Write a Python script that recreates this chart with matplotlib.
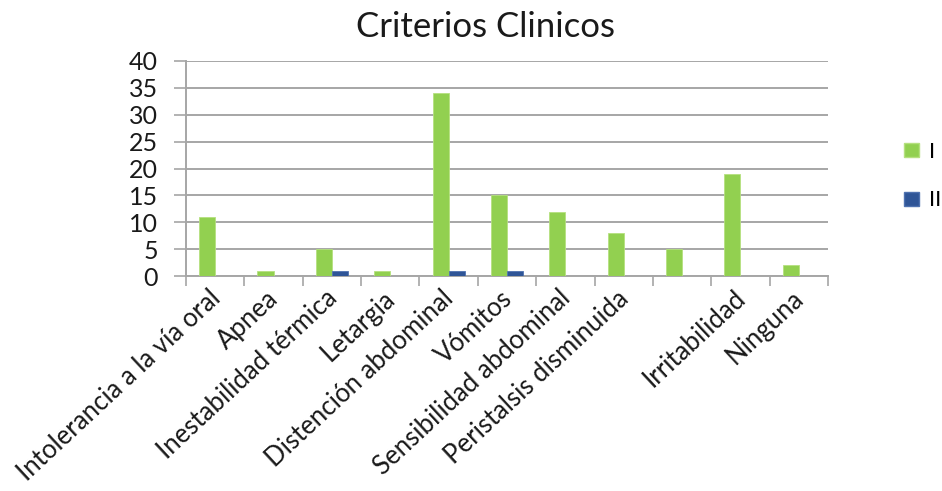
import matplotlib
matplotlib.use("Agg")
import matplotlib.pyplot as plt
import matplotlib.transforms as mtransforms
import numpy as np
from matplotlib.patches import Patch

plt.rcParams['font.family'] = ['Lato', 'DejaVu Sans']

title = "Criterios Clinicos"
categories = ["Intolerancia a la vía oral", "Apnea", "Inestabilidad térmica", "Letargia",
              "Distención abdominal", "Vómitos", "Sensibilidad abdominal",
              "Peristalsis disminuida", "", "Irritabilidad", "Ninguna"]
series_names = ["I", "II"]
values_I = [11, 1, 5, 1, 34, 15, 12, 8, 5, 19, 2]
values_II = [0, 0, 1, 0, 1, 1, 0, 0, 0, 0, 0]
yticks = [0, 5, 10, 15, 20, 25, 30, 35, 40]

green = "#92D050"
blue = "#2F5597"
grid_c = "#A6A6A6"

fig = plt.figure(figsize=(9.42, 4.91), dpi=100)
ax = fig.add_axes([186/942, 1-276/491, (828-186)/942, (276-61)/491])

x = np.arange(len(categories))
w = 0.275
ax.bar(x - w/2, values_I, width=w, color=green, edgecolor="#B5E07F", linewidth=0.6, zorder=3, label=series_names[0])
ax.bar(x + w/2, values_II, width=w, color=blue, edgecolor="#4F72B0", linewidth=0.6, zorder=3, label=series_names[1])

ax.set_xlim(-0.5, len(categories) - 0.5)
ax.set_ylim(0, 40)
ax.set_yticks(yticks)
ax.set_yticklabels([str(t) for t in yticks], fontsize=18, color="#1a1a1a")
ax.yaxis.grid(True, color=grid_c, linewidth=1.4, zorder=0)
ax.tick_params(axis='y', length=9, width=1.2, color=grid_c, pad=11)

# category boundaries ticks
ax.set_xticks(np.arange(-0.5, len(categories), 1.0), minor=False)
ax.set_xticklabels([])
ax.tick_params(axis='x', which='major', length=7, width=1.2, color=grid_c)
ax.set_xticks(x, minor=True)
ax.set_xticklabels(categories, minor=True, rotation=43, ha='right', rotation_mode='anchor',
                   fontsize=18.5, color="#1a1a1a")
ax.tick_params(axis='x', which='minor', length=0, pad=7)
shift = mtransforms.ScaledTranslation(-7/100, 0, fig.dpi_scale_trans)
for lbl in ax.get_xticklabels(minor=True):
    lbl.set_transform(lbl.get_transform() + shift)

for s in ['top', 'right']:
    ax.spines[s].set_visible(False)
for s in ['left', 'bottom']:
    ax.spines[s].set_color(grid_c)
    ax.spines[s].set_linewidth(1.4)

fig.text(485/942, 1-27/491, title, ha='center', va='center', fontsize=25, color="#1a1a1a")

handles = [Patch(facecolor=green, edgecolor="#B5E07F"), Patch(facecolor=blue, edgecolor="#4F72B0")]
fig.legend(handles, series_names, loc='center left', bbox_to_anchor=(895/942, 1-176/491),
           frameon=False, fontsize=16, handlelength=0.68, handleheight=0.6,
           labelspacing=1.3, handletextpad=0.45, borderaxespad=0, borderpad=0.4)

fig.savefig("out.png", dpi=100)
